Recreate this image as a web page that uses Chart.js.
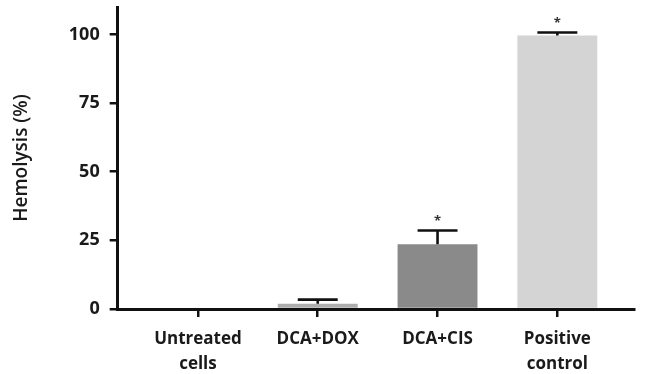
<!DOCTYPE html>
<html>
<head>
<meta charset="utf-8">
<script src="https://cdn.jsdelivr.net/npm/chart.js@4"></script>
<style>
  html, body { margin: 0; padding: 0; background: #fff; }
  #wrap { width: 645px; height: 374px; position: relative; }
</style>
</head>
<body>
<div id="wrap"><canvas id="c"></canvas></div>
<script>
// ---- data ----
const categories = [["Untreated", "cells"], ["DCA+DOX"], ["DCA+CIS"], ["Positive", "control"]];
const hemolysis = [0, 1.9, 23.6, 99.6];
const errorUp = [0, 1.5, 5.0, 1.1];
const significant = [false, false, true, true];
const yTickValues = [0, 25, 50, 75, 100];
const barColors = ["#adadad", "#adadad", "#8a8a8a", "#d4d4d4"];

const FONT = "'Open Sans', 'Liberation Sans', sans-serif";

const errorBarPlugin = {
  id: "errorBars",
  afterDatasetsDraw(chart) {
    const ctx = chart.ctx;
    const meta = chart.getDatasetMeta(0);
    const yScale = chart.scales.y;
    ctx.save();
    meta.data.forEach((bar, i) => {
      const top = yScale.getPixelForValue(hemolysis[i] + errorUp[i]);
      const half = bar.width / 4;
      if (errorUp[i] > 0) {
        ctx.strokeStyle = "#111";
        ctx.lineWidth = 2.6;
        ctx.beginPath();
        ctx.moveTo(bar.x, bar.y);
        ctx.lineTo(bar.x, top);
        ctx.moveTo(bar.x - half, top);
        ctx.lineTo(bar.x + half, top);
        ctx.stroke();
      }
      if (significant[i]) {
        ctx.fillStyle = "#333";
        ctx.font = "bold 13px " + FONT;
        ctx.textAlign = "center";
        ctx.textBaseline = "middle";
        ctx.fillText("*", bar.x, top - 9);
      }
    });
    ctx.restore();
  }
};

new Chart(document.getElementById("c"), {
  type: "bar",
  data: {
    datasets: [{
      data: hemolysis.map((v, i) => ({ x: i + 1, y: v })),
      backgroundColor: barColors,
      borderWidth: 0,
      barPercentage: 0.667,
      categoryPercentage: 1
    }]
  },
  plugins: [errorBarPlugin],
  options: {
    responsive: true,
    maintainAspectRatio: false,
    animation: false,
    layout: { padding: { left: 10, right: 11, top: 7, bottom: 0 } },
    plugins: { legend: { display: false }, tooltip: { enabled: false } },
    scales: {
      x: {
        type: "linear",
        min: 0.33,
        max: 4.64,
        offset: false,
        afterBuildTicks: s => { s.ticks = categories.map((_, i) => ({ value: i + 1 })); },
        afterFit: s => { s.height = 65; },
        border: { display: true, color: "#111", width: 3 },
        grid: { display: true, offset: false, drawOnChartArea: false, drawTicks: true, tickLength: 8, color: "#111", lineWidth: 2.5 },
        ticks: {
          color: "#1a1a1a",
          font: { family: FONT, size: 17, weight: "bold", lineHeight: 1.5 },
          padding: 9,
          maxRotation: 0,
          autoSkip: false,
          callback: v => categories[v - 1]
        }
      },
      y: {
        min: 0,
        max: 110,
        afterBuildTicks: s => { s.ticks = yTickValues.map(v => ({ value: v })); },
        afterFit: s => { s.paddingTop = 0; s.paddingBottom = 0; },
        border: { display: true, color: "#111", width: 3 },
        grid: { display: true, drawOnChartArea: false, drawTicks: true, tickLength: 8, color: "#111", lineWidth: 2.5 },
        ticks: {
          color: "#1a1a1a",
          font: { family: FONT, size: 18, weight: "bold" },
          padding: 10
        },
        title: {
          display: true,
          text: "Hemolysis (%)",
          color: "#1a1a1a",
          font: { family: FONT, size: 19, weight: "600" },
          padding: { top: 0, bottom: 26 }
        }
      }
    }
  }
});
</script>
</body>
</html>
